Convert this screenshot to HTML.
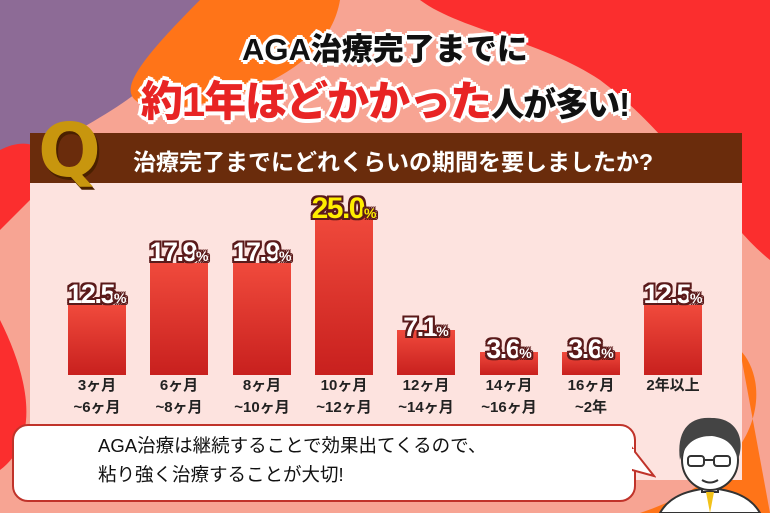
<!DOCTYPE html>
<html><head><meta charset="utf-8"><style>
*{margin:0;padding:0;box-sizing:border-box}
body{width:770px;height:513px;overflow:hidden;position:relative;background:#f7a493;font-family:"Liberation Sans","Noto Sans CJK JP",sans-serif}
.abs{position:absolute}
.t{font-weight:900;text-shadow:3px 0 #fff,-3px 0 #fff,0 3px #fff,0 -3px #fff,2px 2px #fff,-2px -2px #fff,2px -2px #fff,-2px 2px #fff,4px 0 #fff,-4px 0 #fff,0 4px #fff,0 -4px #fff}
.bar{position:absolute;width:58px;bottom:138px;background:linear-gradient(#f04a3c,#c8201e)}
.v{position:absolute;width:100px;text-align:center;font-weight:900;font-size:27px;color:#fff;letter-spacing:-1.5px;
text-shadow:2px 0 #5a1a1a,-2px 0 #5a1a1a,0 2px #5a1a1a,0 -2px #5a1a1a,2px 2px #5a1a1a,-2px -2px #5a1a1a,2px -2px #5a1a1a,-2px 2px #5a1a1a}
.v small{font-size:14px;letter-spacing:0}
.l{position:absolute;width:90px;text-align:center;font-size:15px;line-height:22px;font-weight:700;color:#222}
</style></head><body>
<svg class="abs" style="left:0;top:0" width="770" height="513">
<path d="M0 0H200C200 60 120 110 40 150C20 170 0 190 0 200Z" fill="#8d6b96"/>
<path d="M200 0H340C330 60 260 100 160 110C120 100 110 90 200 0Z" fill="#ff7418"/>
<path d="M420 0H770V260C720 220 680 140 600 80C540 40 460 30 420 0Z" fill="#fb2e2e"/>
<path d="M0 320C30 380 40 440 0 470Z" fill="#fb2e2e"/>
<path d="M740 350C770 380 770 470 640 513H770Z" fill="#ff7418"/>
<path d="M0 150C40 130 60 160 30 200L0 230Z" fill="#fb2e2e"/>
</svg>
<div class="abs" style="left:30px;top:182px;width:712px;height:298px;background:#fde3df"></div>
<div class="abs" style="left:30px;top:133px;width:712px;height:50px;background:#6a2c0c"></div>
<div class="abs" style="left:38px;top:108px;font-size:74px;font-weight:900;color:#c8960e;text-shadow:2px 3px #4a2000;font-family:'DejaVu Sans',sans-serif">Q</div>
<div class="abs" style="left:133px;top:143px;font-size:23px;color:#fff;font-weight:700">治療完了までにどれくらいの期間を要しましたか?</div>
<div class="abs t" style="left:0;width:770px;top:24px;text-align:center;font-size:31px;color:#111">AGA治療完了までに</div>
<div class="abs t" style="left:0;width:770px;top:68px;text-align:center;font-size:42px;color:#e82424;letter-spacing:-1px">約1年ほどかかった<span style="color:#111;font-size:33px">人が多い!</span></div>

<div class="bar" style="left:68px;top:305px"></div>
<div class="bar" style="left:150px;top:263px"></div>
<div class="bar" style="left:233px;top:263px"></div>
<div class="bar" style="left:315px;top:213px"></div>
<div class="bar" style="left:397px;top:330px"></div>
<div class="bar" style="left:480px;top:352px"></div>
<div class="bar" style="left:562px;top:352px"></div>
<div class="bar" style="left:644px;top:305px"></div>

<div class="v" style="left:47px;top:279px">12.5<small>%</small></div>
<div class="v" style="left:129px;top:237px">17.9<small>%</small></div>
<div class="v" style="left:212px;top:237px">17.9<small>%</small></div>
<div class="v" style="left:294px;top:192px;color:#ffee00;font-size:30px">25.0<small>%</small></div>
<div class="v" style="left:376px;top:312px">7.1<small>%</small></div>
<div class="v" style="left:459px;top:334px">3.6<small>%</small></div>
<div class="v" style="left:541px;top:334px">3.6<small>%</small></div>
<div class="v" style="left:623px;top:279px">12.5<small>%</small></div>

<div class="l" style="left:52px;top:375px">3ヶ月<br>~6ヶ月</div>
<div class="l" style="left:134px;top:375px">6ヶ月<br>~8ヶ月</div>
<div class="l" style="left:217px;top:375px">8ヶ月<br>~10ヶ月</div>
<div class="l" style="left:299px;top:375px">10ヶ月<br>~12ヶ月</div>
<div class="l" style="left:381px;top:375px">12ヶ月<br>~14ヶ月</div>
<div class="l" style="left:464px;top:375px">14ヶ月<br>~16ヶ月</div>
<div class="l" style="left:546px;top:375px">16ヶ月<br>~2年</div>
<div class="l" style="left:628px;top:375px">2年以上</div>

<div class="abs" style="left:12px;top:424px;width:624px;height:78px;background:#fff;border:2px solid #c0332a;border-radius:16px"></div>
<svg class="abs" style="left:632px;top:440px" width="24" height="40"><path d="M0 8L22 36L0 30Z" fill="#fff" stroke="#c0332a" stroke-width="2"/><rect x="-2" y="9" width="4" height="20" fill="#fff"/></svg>
<div class="abs" style="left:98px;top:431px;font-size:18.5px;line-height:29px;color:#111">AGA治療は継続することで効果出てくるので、<br>粘り強く治療することが大切!</div>

<svg class="abs" style="left:650px;top:410px" width="120" height="103">
<path d="M10 103C20 85 40 80 60 78C80 80 100 85 110 103Z" fill="#fff" stroke="#333" stroke-width="2"/>
<rect x="52" y="68" width="16" height="14" fill="#fff" stroke="#333" stroke-width="2"/>
<path d="M56 82L60 103L64 82Z" fill="#f2c21a"/>
<ellipse cx="60" cy="50" rx="28" ry="30" fill="#fff" stroke="#333" stroke-width="2"/>
<path d="M30 50C26 20 40 6 62 8C86 8 96 28 88 50C84 34 76 28 62 26C46 26 36 32 30 50Z" fill="#444"/>
<rect x="38" y="46" width="16" height="10" rx="3" fill="none" stroke="#333" stroke-width="2"/>
<rect x="64" y="46" width="16" height="10" rx="3" fill="none" stroke="#333" stroke-width="2"/>
<path d="M54 50H64" stroke="#333" stroke-width="2"/>
<path d="M52 70Q60 75 68 70" fill="none" stroke="#333" stroke-width="2"/>
</svg>
</body></html>
